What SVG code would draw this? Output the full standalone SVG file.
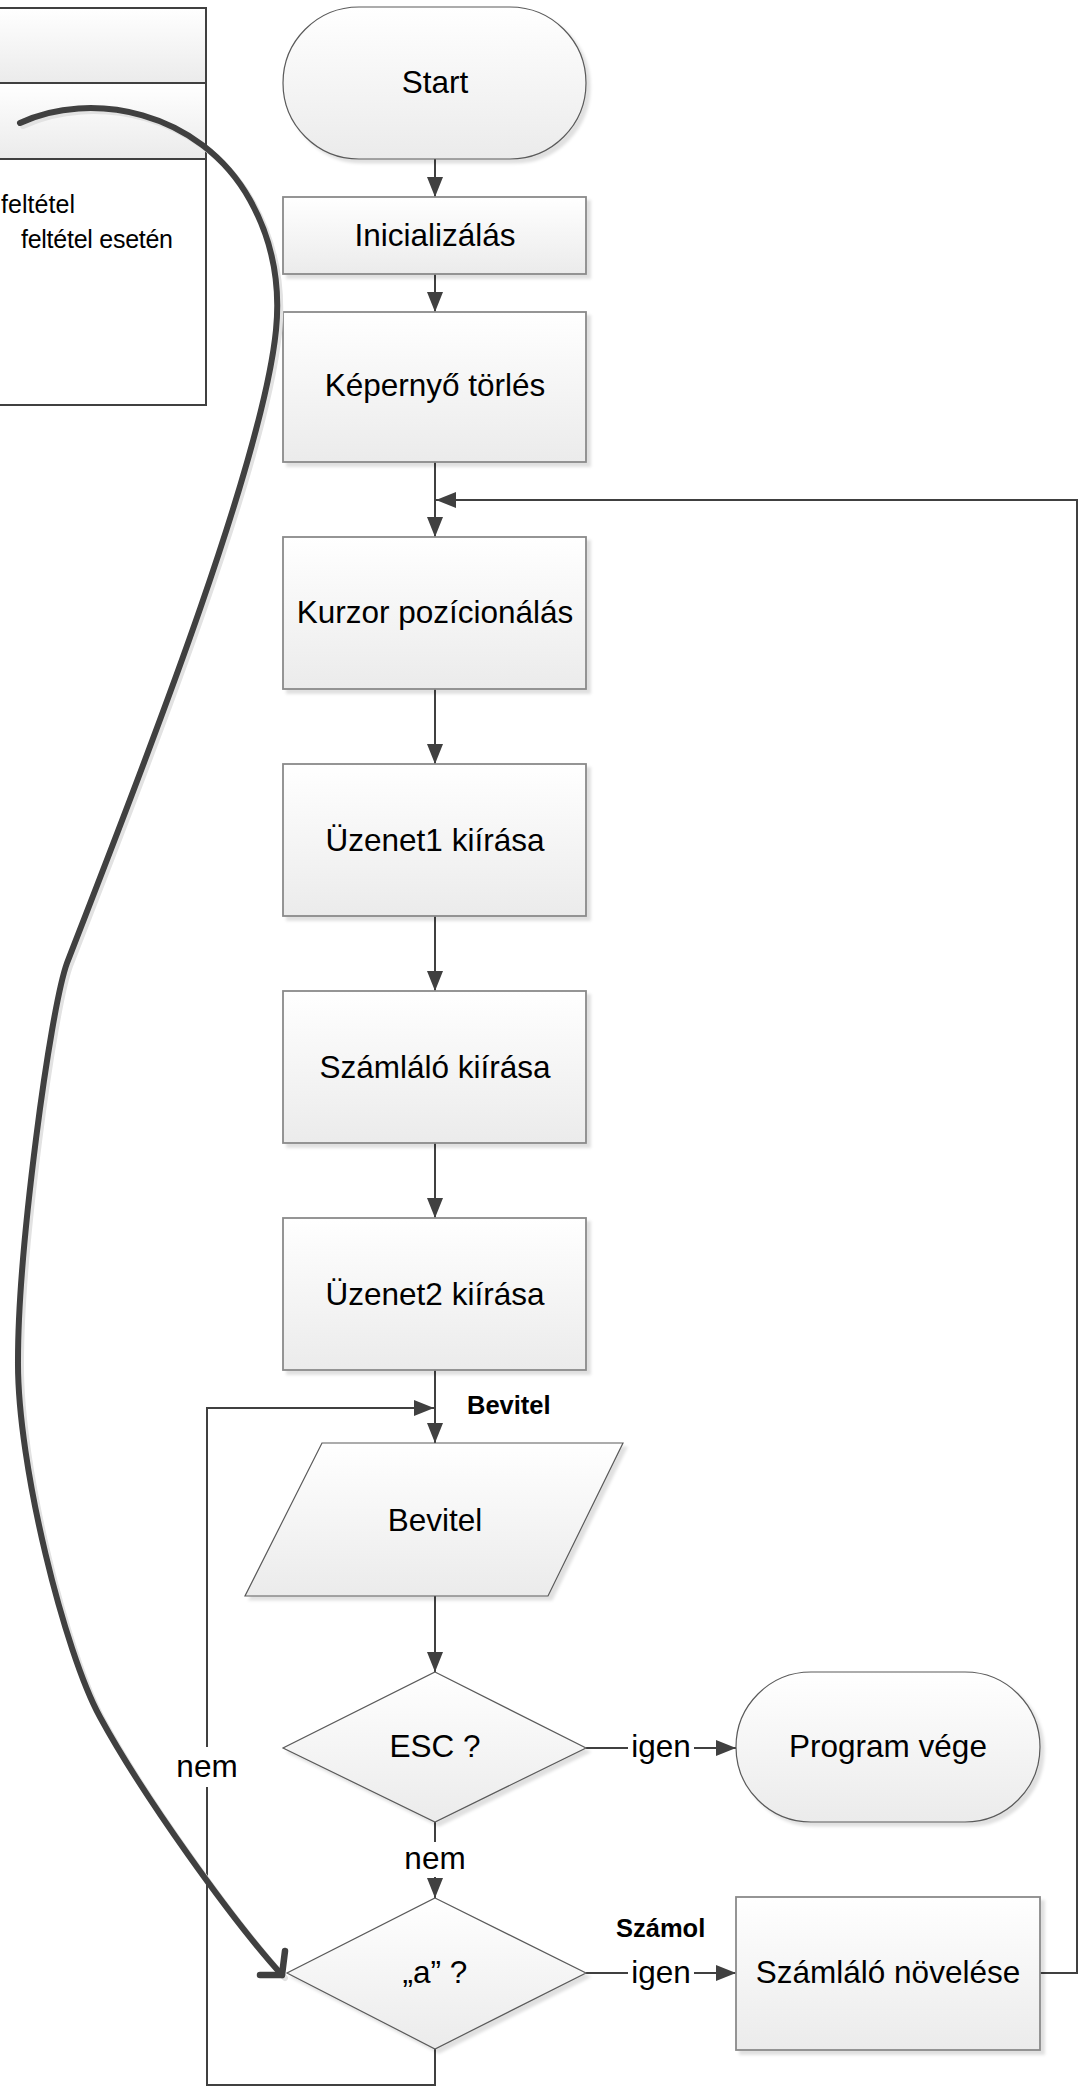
<svg xmlns="http://www.w3.org/2000/svg" width="1082" height="2087" viewBox="0 0 1082 2087">
<defs>
<linearGradient id="g" x1="0" y1="0" x2="0" y2="1">
<stop offset="0" stop-color="#ffffff"/>
<stop offset="1" stop-color="#ebebeb"/>
</linearGradient>
<filter id="sh" x="-10%" y="-10%" width="130%" height="130%">
<feDropShadow dx="4" dy="4" stdDeviation="1.5" flood-color="#000000" flood-opacity="0.12"/>
</filter>
<marker id="ah" markerUnits="userSpaceOnUse" markerWidth="20" markerHeight="16" refX="20" refY="8" orient="auto">
<path d="M0,0 L20,8 L0,16 Z" fill="#404040"/>
</marker>
<path id="cv" d="M20,123 C90,90 200,110 250,200 C275,245 280,290 276,330 C262,470 130,800 67,963 C50,1010 18,1250 18,1360 C17,1465 65,1653 100,1717 C143,1796 232,1920 282,1975"/>
<style>
.t{font-family:"Liberation Sans",Arial,sans-serif;font-size:31.5px;fill:#000;text-anchor:middle}
.b{font-family:"Liberation Sans",Arial,sans-serif;font-size:25.5px;font-weight:bold;fill:#000}
.s{font-family:"Liberation Sans",Arial,sans-serif;font-size:25px;fill:#000}
.box{fill:url(#g);stroke:#8a8a8a;stroke-width:1.8;filter:url(#sh)}
.thin{fill:url(#g);stroke:#5a5a5a;stroke-width:1.2;filter:url(#sh)}
.pan{stroke:#404040;stroke-width:2}
.c{fill:none;stroke:#404040;stroke-width:2}
</style>
</defs>
<rect width="1082" height="2087" fill="#ffffff"/>

<g id="legend">
<rect class="pan" x="-10" y="8" width="216" height="75" fill="url(#g)"/>
<rect class="pan" x="-10" y="83" width="216" height="76" fill="url(#g)"/>
<rect class="pan" x="-10" y="159" width="216" height="246" fill="#ffffff"/>
<text class="s" x="1" y="213" textLength="74">feltétel</text>
<text class="s" x="21" y="248" textLength="152">feltétel esetén</text>
</g>

<g id="connectors">
<line class="c" x1="435" y1="159" x2="435" y2="197" marker-end="url(#ah)"/>
<line class="c" x1="435" y1="274" x2="435" y2="312" marker-end="url(#ah)"/>
<line class="c" x1="435" y1="462" x2="435" y2="537" marker-end="url(#ah)"/>
<line class="c" x1="435" y1="689" x2="435" y2="764" marker-end="url(#ah)"/>
<line class="c" x1="435" y1="916" x2="435" y2="991" marker-end="url(#ah)"/>
<line class="c" x1="435" y1="1143" x2="435" y2="1218" marker-end="url(#ah)"/>
<line class="c" x1="435" y1="1370" x2="435" y2="1443" marker-end="url(#ah)"/>
<line class="c" x1="435" y1="1596" x2="435" y2="1672" marker-end="url(#ah)"/>
<line class="c" x1="586" y1="1748" x2="628" y2="1748"/>
<line class="c" x1="694" y1="1748" x2="736" y2="1748" marker-end="url(#ah)"/>
<text class="t" x="661" y="1757">igen</text>
<line class="c" x1="435" y1="1822" x2="435" y2="1842"/>
<line class="c" x1="435" y1="1877" x2="435" y2="1898" marker-end="url(#ah)"/>
<text class="t" x="435" y="1869">nem</text>
<line class="c" x1="586" y1="1973" x2="628" y2="1973"/>
<line class="c" x1="694" y1="1973" x2="736" y2="1973" marker-end="url(#ah)"/>
<text class="t" x="661" y="1983">igen</text>
<text class="b" x="616" y="1937">Számol</text>
<polyline class="c" points="1040,1973 1077,1973 1077,500 436,500" marker-end="url(#ah)"/>
<polyline class="c" points="435,2049 435,2085 207,2085 207,1787"/>
<polyline class="c" points="207,1747 207,1408 434,1408" marker-end="url(#ah)"/>
<text class="t" x="207" y="1777">nem</text>
<text class="b" x="467" y="1414">Bevitel</text>
</g>

<g id="start"><rect class="thin" x="283" y="7" width="303" height="152" rx="76" ry="76"/><text class="t" x="435" y="93">Start</text></g>
<g id="init"><rect class="box" x="283" y="197" width="303" height="77"/><text class="t" x="435" y="246">Inicializálás</text></g>
<g id="clear"><rect class="box" x="283" y="312" width="303" height="150"/><text class="t" x="435" y="396">Képernyő törlés</text></g>
<g id="cursor"><rect class="box" x="283" y="537" width="303" height="152"/><text class="t" x="435" y="623">Kurzor pozícionálás</text></g>
<g id="msg1"><rect class="box" x="283" y="764" width="303" height="152"/><text class="t" x="435" y="851">Üzenet1 kiírása</text></g>
<g id="counter"><rect class="box" x="283" y="991" width="303" height="152"/><text class="t" x="435" y="1078">Számláló kiírása</text></g>
<g id="msg2"><rect class="box" x="283" y="1218" width="303" height="152"/><text class="t" x="435" y="1305">Üzenet2 kiírása</text></g>
<g id="input"><polygon class="thin" points="322,1443 623,1443 548,1596 245,1596"/><text class="t" x="435" y="1531">Bevitel</text></g>
<g id="esc"><polygon class="thin" points="435,1672 586,1748 435,1822 283,1748"/><text class="t" x="435" y="1757">ESC ?</text></g>
<g id="end"><rect class="thin" x="736" y="1672" width="304" height="150" rx="75" ry="75"/><text class="t" x="888" y="1757">Program vége</text></g>
<g id="a"><polygon class="thin" points="435,1898 586,1973 435,2049 287,1973"/><text class="t" x="435" y="1983">„a” ?</text></g>
<g id="inc"><rect class="box" x="736" y="1897" width="304" height="153"/><text class="t" x="888" y="1983">Számláló növelése</text></g>

<g id="curve">
<use href="#cv" transform="translate(3,3)" fill="none" stroke="#e2e2e2" stroke-width="6" stroke-linecap="round"/>
<use href="#cv" fill="none" stroke="#404040" stroke-width="6" stroke-linecap="round"/>
<polyline fill="none" stroke="#404040" stroke-width="6.5" stroke-linecap="round" stroke-linejoin="round" points="285,1951 282,1975 260,1975"/>
</g>
</svg>
